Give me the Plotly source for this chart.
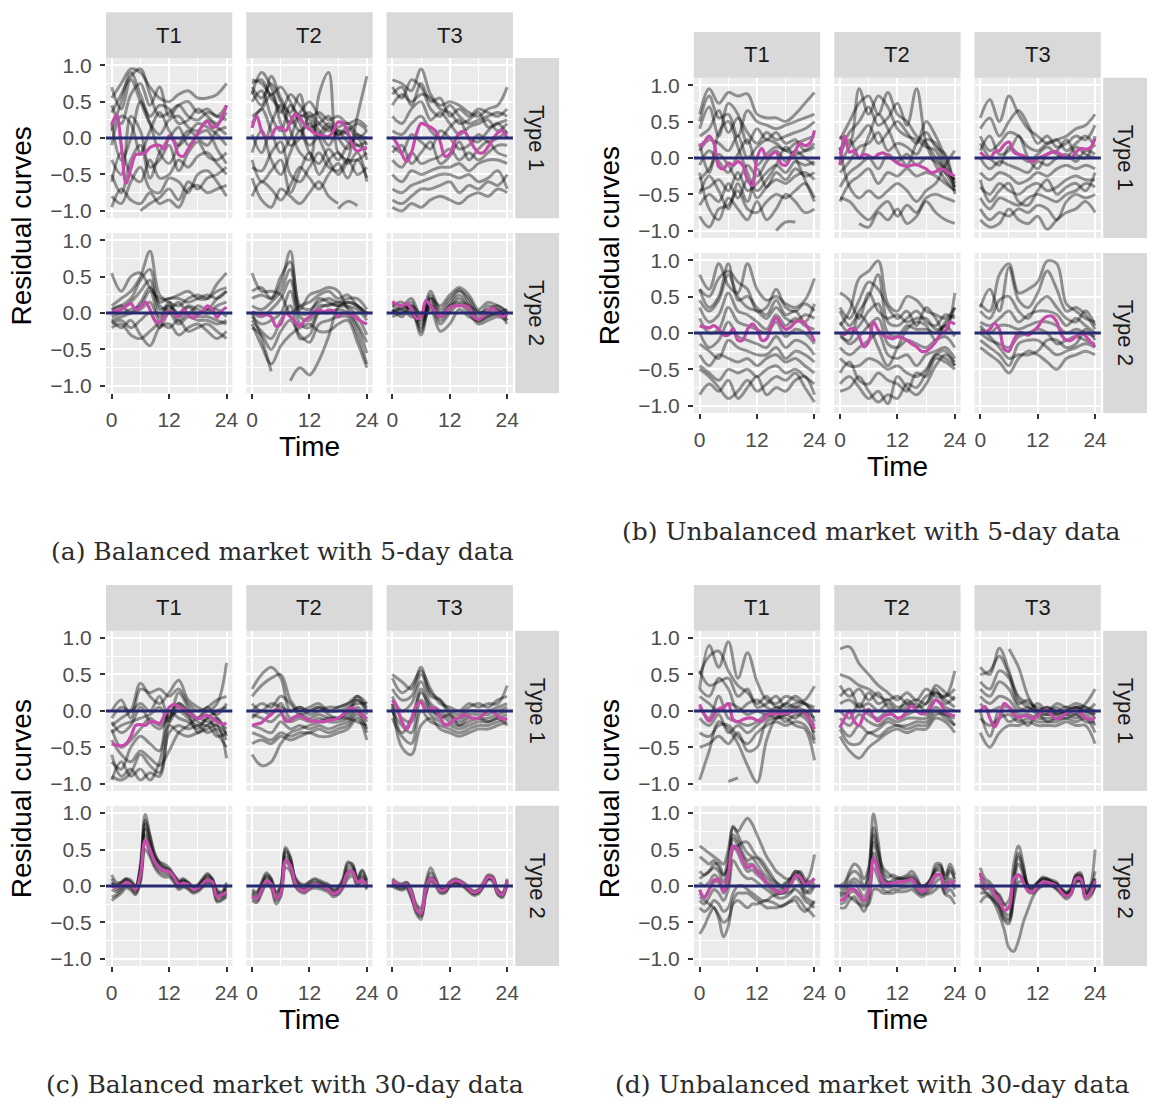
import plotly.graph_objects as go

# Hour grids: curves with 13 values are sampled every 2 hours, 25 values hourly
HOURS = list(range(25))
HOURS_2H = list(range(0, 25, 2))

Y_TICKS = [-1.0, -0.5, 0.0, 0.5, 1.0]
Y_TICK_LABELS = ["\u22121.0", "\u22120.5", "0.0", "0.5", "1.0"]
X_TICKS = [0, 12, 24]
X_TICK_LABELS = ["0", "12", "24"]
TERMS = ["T1", "T2", "T3"]
TYPES = ["Type 1", "Type 2"]

# ---------------- (a) balanced market, 5-day data ----------------
BAL5_TYPE1_T1 = [
    [0.55, 0.75, 0.95, 0.9, 0.7, 0.55, 0.5, 0.6, 0.65, 0.55, 0.55, 0.6, 0.75],
    [0.35, 0.6, 0.85, 0.95, 0.6, 0.3, 0.35, 0.45, 0.3, 0.25, 0.35, 0.3, 0.25],
    [0.1, 0.5, 0.9, 0.6, 0.3, 0.45, 0.4, 0.2, 0.25, 0.4, 0.3, 0.2, 0.35],
    [0.7, 0.4, 0.8, 0.5, 0.2, 0.05, 0.25, 0.3, 0.15, 0.1, 0.25, 0.15, 0.05],
    [-0.1, 0.3, 0.2, -0.2, 0.1, 0.35, 0.1, -0.1, 0.05, 0.2, 0.15, 0.05, -0.1],
    [0.2, -0.3, 0.0, 0.5, 0.2, -0.2, -0.35, -0.1, 0.1, 0.0, -0.1, 0.1, 0.15],
    [-0.3, -0.5, 0.3, 0.1, -0.4, -0.3, -0.1, -0.45, -0.2, -0.05, -0.25, -0.3, -0.2],
    [-0.6, -0.2, -0.5, -0.6, -0.3, -0.55, -0.5, -0.3, -0.4, -0.25, -0.2, -0.35, -0.5],
    [-0.8, -0.9, -0.6, -0.4, -0.7, -0.75, -0.55, -0.6, -0.75, -0.5, -0.45, -0.6, -0.8],
    [-0.95, -0.7, -0.85, -0.9, -0.75, -0.9, -0.85, -0.95, -0.7, -0.65, -0.75, -0.7, -0.65],
    [None, None, None, -1.0, -0.9, -0.82, -0.7, -0.85, -0.6, -0.7, -0.55, -0.5, -0.4],
    [0.45, 0.2, 0.6, 0.75, 0.45, 0.7, 0.3, 0.45, 0.5, 0.35, 0.4, 0.3, 0.45],
    [-0.5, -0.75, -0.3, -0.1, -0.55, -0.2, 0.0, 0.15, -0.1, 0.05, 0.1, -0.15, -0.35],
]
BAL5_TYPE1_T1_MEAN = [0.18, 0.32, -0.1, -0.62, -0.42, -0.23, -0.22, -0.2, -0.13, -0.1, -0.1, -0.15, 0.03,
                      -0.05, -0.23, -0.25, -0.15, -0.05, 0.07, 0.17, 0.23, 0.15, 0.17, 0.28, 0.45]

BAL5_TYPE1_T2 = [
    [0.8, 0.75, 0.6, 0.7, 0.5, 0.3, 0.35, 0.2, 0.1, 0.15, 0.2, 0.05, 0.0],
    [0.75, 0.8, 0.55, 0.4, 0.2, 0.35, 0.5, 0.3, 0.15, 0.05, 0.1, 0.2, 0.1],
    [0.7, 0.55, 0.75, 0.5, 0.3, 0.1, 0.2, 0.0, 0.15, 0.1, -0.05, -0.1, -0.05],
    [0.5, 0.65, 0.3, 0.1, 0.45, 0.2, -0.1, 0.05, 0.2, 0.0, -0.15, 0.05, -0.1],
    [0.3, 0.4, 0.6, 0.2, -0.1, 0.0, 0.3, 0.1, -0.1, 0.1, 0.05, -0.1, -0.15],
    [0.05, -0.2, 0.2, 0.45, 0.1, -0.2, -0.3, 0.6, 0.9, -0.2, -0.3, -0.3, -0.2],
    [-0.2, 0.1, -0.3, -0.5, -0.2, 0.1, -0.2, -0.35, -0.15, -0.3, -0.1, 0.0, -0.3],
    [-0.4, -0.45, -0.2, -0.05, -0.5, -0.6, -0.4, -0.2, -0.4, -0.45, -0.3, -0.5, -0.4],
    [-0.8, -0.6, -0.7, -0.85, -0.65, -0.4, -0.55, -0.7, -0.5, -0.35, -0.55, -0.3, -0.55],
    [-0.55, -0.85, -0.95, -0.7, -0.8, -0.9, -0.75, -0.6, -0.8, -0.9, None, None, None],
    [None, None, None, None, None, None, None, None, None, -0.97, -0.87, -0.93, None],
    [0.2, 0.4, 0.1, -0.2, 0.0, 0.3, 0.25, 0.0, -0.3, -0.5, -0.3, 0.3, 0.85],
    [0.6, 0.9, 0.7, 0.35, 0.6, 0.45, 0.3, 0.35, 0.25, 0.3, 0.2, 0.25, 0.15],
    [0.65, 0.45, 0.85, 0.55, 0.35, 0.6, 0.15, 0.2, 0.3, 0.05, 0.15, 0.0, 0.1],
    [-0.3, -0.6, -0.45, -0.3, -0.75, -0.45, -0.2, -0.5, -0.3, -0.2, -0.35, -0.2, -0.6],
]
BAL5_TYPE1_T2_MEAN = [0.14, 0.3, 0.1, 0.0, 0.02, 0.14, 0.14, 0.1, 0.22, 0.33, 0.28, 0.18, 0.12,
                      0.07, 0.05, 0.03, 0.02, 0.1, 0.22, 0.2, 0.08, -0.1, -0.18, -0.15, -0.13]

BAL5_TYPE1_T3 = [
    [0.8, 0.75, 0.65, 0.95, 0.6, 0.45, 0.5, 0.45, 0.35, 0.3, 0.4, 0.45, 0.7],
    [0.7, 0.55, 0.8, 0.7, 0.4, 0.3, 0.45, 0.3, 0.2, 0.25, 0.3, 0.35, 0.3],
    [0.45, 0.6, 0.5, 0.6, 0.55, 0.4, 0.35, 0.2, 0.25, 0.35, 0.15, 0.2, 0.25],
    [0.3, 0.2, 0.4, 0.5, 0.25, 0.35, 0.2, 0.05, 0.15, 0.2, 0.25, 0.1, 0.2],
    [0.1, 0.05, 0.2, 0.3, 0.1, 0.0, 0.15, 0.25, 0.0, -0.05, 0.1, 0.2, 0.05],
    [-0.1, -0.2, 0.05, -0.05, -0.15, 0.1, 0.0, -0.15, -0.1, 0.05, -0.05, 0.0, 0.1],
    [-0.3, -0.4, -0.2, -0.35, -0.3, -0.25, -0.15, -0.3, -0.2, -0.3, -0.2, -0.1, -0.1],
    [-0.5, -0.6, -0.45, -0.5, -0.45, -0.4, -0.4, -0.35, -0.45, -0.35, -0.3, -0.3, -0.35],
    [-0.7, -0.75, -0.65, -0.6, -0.55, -0.5, -0.5, -0.55, -0.5, -0.6, -0.55, -0.45, -0.7],
    [-0.85, -0.9, -0.8, -0.7, -0.7, -0.65, -0.6, -0.75, -0.65, -0.7, -0.6, -0.65, -0.5],
    [-0.95, -1.0, -0.9, -0.95, -0.85, -0.8, -0.85, -0.9, -0.8, -0.75, -0.8, -0.7, -0.75],
    [0.6, 0.7, 0.45, 0.75, 0.5, 0.55, 0.3, 0.4, 0.3, 0.4, 0.35, 0.3, 0.4],
    [-0.2, -0.1, -0.35, -0.2, -0.05, -0.35, -0.25, -0.05, -0.3, -0.15, -0.05, -0.2, -0.25],
]
BAL5_TYPE1_T3_MEAN = [0.02, -0.08, -0.22, -0.32, -0.2, 0.05, 0.2, 0.18, 0.15, 0.1, -0.05, -0.25, -0.22,
                      -0.05, 0.07, 0.09, 0.0, -0.12, -0.2, -0.2, -0.12, -0.02, 0.07, 0.1, -0.01]

BAL5_TYPE2_T1 = [
    [0.55, 0.3, 0.5, 0.55, 0.35, 0.2, 0.2, 0.25, 0.3, 0.2, 0.2, 0.4, 0.55],
    [0.1, 0.2, 0.3, 0.5, 0.85, 0.25, 0.15, 0.1, 0.2, 0.25, 0.2, 0.3, 0.35],
    [0.05, 0.1, 0.2, 0.45, 0.6, 0.1, 0.05, 0.15, 0.0, 0.1, 0.05, 0.2, 0.3],
    [0.0, 0.05, 0.15, 0.3, 0.45, 0.05, 0.1, 0.0, 0.1, 0.05, 0.0, 0.1, 0.15],
    [-0.05, 0.0, 0.05, 0.1, 0.3, -0.05, 0.15, -0.05, 0.08, 0.0, 0.05, 0.05, -0.05],
    [-0.1, -0.05, 0.0, 0.05, 0.15, -0.1, 0.1, -0.1, 0.0, -0.05, -0.05, -0.1, -0.15],
    [-0.15, -0.1, -0.2, -0.1, 0.0, -0.2, 0.0, -0.15, -0.05, -0.1, -0.1, -0.15, -0.1],
    [-0.1, -0.2, -0.1, -0.3, -0.45, -0.2, -0.15, -0.3, -0.2, -0.15, -0.25, -0.35, -0.25],
    [-0.2, -0.15, -0.3, -0.35, -0.25, -0.15, -0.2, -0.1, -0.25, -0.2, -0.15, -0.25, -0.35],
    [0.05, 0.1, 0.0, 0.15, 0.35, 0.15, 0.2, 0.2, 0.15, 0.2, 0.25, 0.2, 0.3],
]
BAL5_TYPE2_T1_MEAN = [0.02, 0.03, 0.05, 0.1, 0.13, 0.05, 0.08, 0.15, 0.05, -0.1, -0.13, -0.05, 0.02,
                      0.0, -0.05, 0.05, -0.03, -0.07, -0.02, 0.02, 0.1, 0.05, -0.06, 0.03, 0.08]

BAL5_TYPE2_T2 = [
    [0.55, 0.3, 0.3, 0.25, 0.0, 0.1, 0.15, 0.25, 0.3, 0.2, 0.25, 0.1, 0.0],
    [0.2, 0.25, 0.2, 0.4, 0.85, 0.1, 0.05, 0.15, 0.2, 0.15, 0.2, 0.2, 0.05],
    [0.1, 0.05, 0.15, 0.3, 0.6, 0.0, 0.0, 0.2, 0.15, 0.1, 0.15, 0.1, -0.05],
    [0.0, -0.05, 0.05, 0.2, 0.45, -0.05, -0.1, 0.1, 0.1, 0.15, 0.1, 0.05, -0.1],
    [-0.05, -0.15, -0.1, 0.0, 0.3, -0.15, -0.2, 0.05, 0.12, 0.1, 0.08, -0.05, -0.3],
    [-0.1, -0.25, -0.35, -0.1, 0.1, -0.35, -0.3, 0.0, 0.0, 0.05, 0.0, -0.2, -0.55],
    [-0.2, -0.3, -0.5, -0.25, -0.1, -0.3, -0.4, -0.15, -0.1, -0.05, -0.05, -0.3, -0.7],
    [-0.15, -0.45, -0.7, -0.45, -0.3, -0.2, -0.15, -0.25, -0.25, -0.15, -0.1, -0.4, -0.75],
    [0.0, -0.35, -0.8, None, None, None, None, None, None, None, None, None, None],
    [None, None, None, None, -0.93, -0.75, -0.85, -0.65, -0.32, 0.08, 0.15, 0.1, 0.0],
    [0.3, 0.35, 0.2, 0.5, 0.7, 0.05, 0.25, 0.3, 0.35, 0.3, 0.05, -0.15, -0.4],
]
BAL5_TYPE2_T2_MEAN = [0.02, -0.01, -0.03, -0.02, -0.05, -0.18, -0.15, 0.0, -0.05, -0.12, -0.18, -0.1, -0.05,
                      0.02, 0.04, 0.02, 0.04, 0.03, -0.05, 0.0, -0.01, -0.03, -0.08, -0.12, -0.15]

BAL5_TYPE2_T3 = [
    [0.15, 0.1, 0.2, -0.05, 0.3, 0.05, 0.2, 0.32, 0.15, -0.05, 0.1, 0.05, -0.05],
    [0.1, 0.05, 0.15, -0.15, 0.25, 0.0, 0.15, 0.3, 0.2, 0.0, 0.05, 0.1, 0.0],
    [0.05, 0.0, 0.1, -0.25, 0.2, -0.05, 0.1, 0.25, 0.1, -0.1, 0.0, 0.05, -0.1],
    [0.0, 0.08, 0.05, -0.3, 0.15, -0.1, 0.05, 0.2, 0.05, -0.12, -0.05, 0.0, -0.15],
    [-0.05, 0.0, 0.0, -0.2, 0.1, -0.15, 0.0, 0.12, 0.0, -0.15, -0.1, -0.05, -0.1],
    [0.1, 0.15, 0.0, -0.1, 0.05, -0.25, -0.15, 0.05, -0.05, -0.1, -0.05, 0.0, 0.05],
    [0.0, 0.05, -0.05, -0.05, 0.2, 0.1, 0.25, 0.35, 0.25, 0.05, 0.15, 0.1, 0.02],
    [0.05, -0.05, 0.1, 0.0, 0.1, -0.05, 0.1, 0.15, 0.1, 0.02, 0.0, -0.02, -0.05],
]
BAL5_TYPE2_T3_MEAN = [0.16, 0.12, 0.1, 0.13, 0.05, -0.07, -0.05, 0.17, 0.1, 0.02, -0.05, 0.0, 0.08,
                      0.1, 0.1, 0.1, 0.08, -0.05, -0.09, -0.05, 0.02, 0.07, 0.0, -0.05, -0.02]

# ---------------- (b) unbalanced market, 5-day data ----------------
UNB5_TYPE1_T1 = [
    [0.6, 0.95, 0.75, 0.9, 0.85, 0.88, 0.6, 0.55, 0.55, 0.5, 0.6, 0.75, 0.9],
    [0.5, 0.85, 0.55, 0.6, 0.3, 0.65, 0.5, 0.45, 0.4, 0.45, 0.5, 0.55, 0.6],
    [0.3, 0.4, 0.65, 0.35, 0.55, 0.35, 0.2, 0.35, 0.25, 0.3, 0.35, 0.4, 0.5],
    [0.1, 0.25, 0.2, 0.1, 0.3, 0.0, 0.15, 0.25, 0.2, 0.1, 0.2, 0.25, 0.3],
    [-0.1, 0.1, -0.05, -0.2, 0.05, 0.25, -0.1, 0.05, 0.15, 0.1, 0.05, 0.1, 0.2],
    [-0.3, -0.15, 0.05, -0.1, -0.3, -0.1, -0.25, -0.05, 0.1, -0.05, 0.1, 0.0, -0.1],
    [-0.45, -0.4, -0.3, -0.45, -0.2, -0.45, -0.35, -0.2, -0.1, -0.2, -0.05, -0.1, -0.05],
    [-0.65, -0.5, -0.6, -0.35, -0.55, -0.3, -0.55, -0.4, -0.3, -0.35, -0.25, -0.2, -0.3],
    [-0.8, -0.95, -0.7, -0.65, -0.45, -0.7, -0.75, -0.6, -0.5, -0.55, -0.45, -0.35, -0.55],
    [-0.2, -0.7, -0.85, -0.55, -0.7, -0.85, -0.6, -0.85, -0.7, -0.5, -0.6, -0.75, -0.7],
    [None, None, None, None, None, None, None, None, -1.0, -0.88, -0.88, None, None],
    [0.2, -0.2, 0.35, 0.5, 0.15, -0.2, -0.45, -0.3, -0.1, 0.15, 0.0, -0.3, -0.6],
    [0.4, 0.7, 0.3, 0.75, 0.6, 0.2, 0.4, 0.25, 0.35, 0.2, 0.25, 0.1, 0.15],
    [-0.5, -0.25, -0.45, -0.7, -0.35, -0.6, -0.15, -0.4, -0.2, -0.3, -0.15, -0.25, -0.2],
]
UNB5_TYPE1_T1_MEAN = [0.15, 0.22, 0.3, 0.2, -0.12, -0.15, -0.07, -0.1, -0.05, -0.1, -0.3, -0.38, 0.0,
                      0.13, 0.0, 0.05, 0.08, -0.08, -0.1, 0.0, 0.1, 0.2, 0.17, 0.2, 0.38]

UNB5_TYPE1_T2 = [
    [0.3, 0.2, 0.95, 0.6, 0.85, 0.7, 0.4, 0.3, 0.25, 0.15, 0.1, -0.2, -0.4],
    [0.25, 0.5, 0.75, 0.85, 0.6, 0.9, 0.6, 0.5, 0.3, 0.2, 0.0, -0.15, -0.3],
    [0.1, 0.35, 0.5, 0.7, 0.45, 0.55, 0.75, 0.45, 0.95, 0.2, -0.1, -0.3, -0.45],
    [-0.1, 0.15, 0.3, 0.45, 0.2, 0.35, 0.5, 0.35, 0.2, 0.5, 0.3, 0.0, -0.35],
    [-0.2, -0.05, 0.15, 0.2, 0.35, 0.1, 0.2, 0.15, 0.05, 0.25, 0.2, -0.1, -0.4],
    [-0.4, -0.2, -0.1, 0.0, -0.15, 0.05, -0.05, 0.05, -0.1, 0.0, -0.05, -0.2, -0.3],
    [-0.6, -0.35, -0.25, -0.15, -0.35, -0.2, -0.25, -0.15, -0.25, -0.2, -0.25, -0.35, -0.45],
    [0.15, -0.4, -0.55, -0.45, -0.55, -0.45, -0.35, -0.45, -0.6, -0.45, -0.35, -0.1, 0.1],
    [-0.55, -0.6, -0.75, -0.85, -0.7, -0.6, -0.8, -0.65, -0.75, -0.55, -0.5, -0.55, -0.6],
    [None, None, -0.9, -0.95, -0.75, -0.85, -0.7, -0.9, -0.8, -0.6, -0.75, -0.85, -0.9],
    [0.05, 0.25, 0.0, 0.3, 0.6, 0.4, 0.1, -0.1, 0.2, 0.35, 0.15, 0.05, -0.5],
]
UNB5_TYPE1_T2_MEAN = [-0.1, 0.3, 0.08, 0.1, 0.0, 0.05, 0.03, 0.0, 0.05, 0.07, 0.03, -0.02, -0.07,
                      -0.1, -0.12, -0.1, -0.09, -0.12, -0.15, -0.2, -0.19, -0.15, -0.17, -0.22, -0.25]

UNB5_TYPE1_T3 = [
    [0.55, 0.8, 0.5, 0.85, 0.6, 0.4, 0.3, 0.2, 0.25, 0.3, 0.4, 0.45, 0.6],
    [0.4, 0.55, 0.3, 0.5, 0.65, 0.45, 0.2, 0.3, 0.15, 0.2, 0.3, 0.25, 0.45],
    [0.3, 0.1, 0.2, 0.35, 0.3, 0.15, 0.1, 0.2, 0.25, 0.1, 0.2, 0.3, 0.15],
    [0.2, 0.0, -0.1, 0.15, 0.05, -0.05, 0.05, 0.15, 0.05, 0.0, 0.15, 0.05, 0.0],
    [0.0, -0.15, -0.05, -0.1, -0.15, -0.2, -0.05, -0.1, 0.0, 0.05, -0.05, 0.1, 0.05],
    [-0.2, -0.3, -0.2, -0.25, -0.35, -0.3, -0.2, -0.25, -0.15, -0.1, -0.15, -0.1, -0.15],
    [-0.4, -0.5, -0.35, -0.45, -0.5, -0.4, -0.35, -0.45, -0.4, -0.3, -0.25, -0.3, -0.3],
    [-0.55, -0.7, -0.55, -0.6, -0.65, -0.55, -0.5, -0.55, -0.6, -0.5, -0.45, -0.35, -0.4],
    [-0.7, -0.85, -0.75, -0.8, -0.7, -0.75, -0.65, -0.7, -0.85, -0.6, -0.5, -0.55, -0.5],
    [-0.85, -0.95, -0.9, -0.7, -0.85, -0.9, -0.8, -0.98, -0.85, -0.75, -0.7, -0.6, -0.75],
    [0.1, 0.3, 0.05, 0.1, 0.3, 0.0, -0.15, 0.05, 0.1, 0.25, 0.05, 0.0, 0.3],
    [-0.3, -0.6, -0.45, -0.35, -0.6, -0.65, -0.45, -0.3, -0.5, -0.4, -0.35, -0.45, -0.2],
]
UNB5_TYPE1_T3_MEAN = [0.08, 0.02, -0.01, 0.08, 0.1, 0.18, 0.22, 0.08, 0.05, 0.03, -0.02, -0.05, 0.0,
                      0.02, 0.05, 0.08, 0.08, 0.04, 0.01, 0.0, 0.08, 0.13, 0.12, 0.14, 0.27]

UNB5_TYPE2_T1 = [
    [0.8, 0.6, 0.95, 0.65, 0.55, 0.95, 0.6, 0.45, 0.5, 0.4, 0.35, 0.45, 0.75],
    [0.6, 0.5, 0.75, 0.85, 0.7, 0.6, 0.3, 0.35, 0.6, 0.35, 0.3, 0.4, 0.3],
    [0.45, 0.3, 0.45, 0.8, 0.5, 0.35, 0.3, 0.2, 0.35, 0.2, 0.15, 0.25, 0.2],
    [0.35, 0.15, 0.25, 0.55, 0.3, 0.25, 0.15, 0.05, 0.25, 0.1, 0.2, 0.1, 0.05],
    [0.2, 0.0, 0.05, 0.35, 0.15, 0.1, 0.05, 0.0, 0.15, -0.05, 0.05, 0.0, -0.15],
    [0.0, -0.2, -0.1, 0.15, -0.05, -0.1, -0.15, -0.2, -0.05, -0.2, -0.1, -0.15, -0.3],
    [-0.15, -0.25, -0.35, -0.1, -0.2, -0.25, -0.3, -0.3, -0.2, -0.35, -0.25, -0.3, -0.4],
    [-0.3, -0.45, -0.3, -0.35, -0.4, -0.35, -0.45, -0.35, -0.3, -0.4, -0.35, -0.45, -0.55],
    [-0.45, -0.55, -0.65, -0.5, -0.55, -0.5, -0.6, -0.5, -0.45, -0.55, -0.5, -0.6, -0.7],
    [-0.5, -0.6, -0.75, -0.9, -0.8, -0.65, -0.8, -0.7, -0.6, -0.65, -0.55, -0.75, -0.95],
    [-0.85, -0.7, -0.8, -0.65, -0.9, -0.75, -0.6, -0.85, -0.75, -0.8, -0.65, -0.6, -0.85],
    [0.6, 0.35, 0.5, 0.95, 0.45, 0.5, 0.35, 0.25, 0.45, 0.25, 0.3, 0.15, 0.4],
]
UNB5_TYPE2_T1_MEAN = [0.1, 0.08, 0.07, 0.1, 0.05, -0.03, -0.03, 0.06, -0.1, -0.1, 0.05, 0.12, 0.05,
                      -0.1, -0.08, 0.1, 0.21, 0.12, 0.05, 0.08, 0.15, 0.17, 0.13, 0.03, -0.12]

UNB5_TYPE2_T2 = [
    [0.1, 0.3, 0.75, 0.85, 0.99, 0.4, 0.3, 0.5, 0.45, 0.3, 0.25, 0.2, 0.35],
    [0.35, 0.2, 0.45, 0.7, 0.6, 0.35, 0.2, 0.3, 0.1, 0.35, 0.2, 0.0, 0.55],
    [0.3, 0.1, 0.3, 0.5, 0.8, 0.15, 0.1, 0.2, 0.3, 0.15, 0.1, 0.25, 0.2],
    [0.15, 0.0, 0.1, 0.3, 0.4, 0.0, -0.05, 0.1, 0.05, 0.05, 0.0, 0.1, -0.05],
    [0.0, -0.15, -0.05, 0.1, 0.2, -0.15, -0.2, -0.1, -0.15, -0.2, -0.1, -0.05, -0.2],
    [-0.2, -0.3, -0.2, -0.1, 0.0, -0.3, -0.35, -0.3, -0.45, -0.3, -0.25, -0.2, -0.35],
    [-0.35, -0.45, -0.45, -0.35, -0.4, -0.5, -0.45, -0.55, -0.6, -0.5, -0.3, -0.35, -0.45],
    [-0.55, -0.4, -0.65, -0.7, -0.55, -0.65, -0.7, -0.8, -0.55, -0.6, -0.35, -0.4, -0.5],
    [-0.7, -0.6, -0.75, -0.9, -0.8, -0.97, -0.6, -0.75, -0.85, -0.7, -0.45, -0.3, -0.4],
    [-0.8, -0.75, -0.6, -0.8, -0.95, -0.85, -0.9, -0.7, -0.75, -0.55, -0.3, -0.25, -0.45],
    [-0.05, -0.1, 0.25, 0.1, -0.2, -0.45, -0.2, 0.05, 0.15, 0.1, -0.1, 0.15, 0.25],
    [0.55, 0.45, 0.2, 0.55, 0.3, 0.2, 0.25, 0.15, 0.2, 0.2, 0.05, 0.1, 0.35],
]
UNB5_TYPE2_T2_MEAN = [0.0, -0.02, 0.05, 0.06, -0.05, -0.19, -0.12, 0.15, 0.04, -0.03, -0.06, -0.08, -0.05,
                      -0.07, -0.1, -0.15, -0.19, -0.25, -0.25, -0.2, -0.12, -0.02, 0.03, 0.15, 0.12]

UNB5_TYPE2_T3 = [
    [0.4, 0.3, 0.8, 0.95, 0.55, 0.6, 0.7, 0.99, 0.95, 0.4, 0.3, 0.2, 0.15],
    [0.35, 0.6, 0.3, 0.9, 0.45, 0.35, 0.55, 0.85, 0.6, 0.3, 0.35, 0.25, 0.05],
    [0.3, 0.2, 0.45, 0.5, 0.3, 0.2, 0.4, 0.5, 0.35, 0.2, 0.15, 0.3, 0.1],
    [0.15, 0.1, 0.2, 0.3, 0.15, 0.25, 0.3, 0.3, 0.25, 0.1, 0.2, 0.1, 0.0],
    [0.05, 0.0, 0.1, 0.1, 0.05, 0.1, 0.15, 0.15, 0.1, 0.0, 0.05, 0.0, -0.05],
    [0.0, -0.1, -0.15, -0.2, -0.05, 0.0, 0.05, 0.0, -0.15, -0.1, -0.05, -0.1, -0.15],
    [-0.1, -0.2, -0.3, -0.45, -0.15, -0.1, -0.1, -0.2, -0.3, -0.25, -0.2, -0.15, -0.2],
    [-0.2, -0.3, -0.4, -0.55, -0.35, -0.25, -0.3, -0.4, -0.5, -0.35, -0.3, -0.25, -0.3],
    [0.1, -0.05, -0.2, -0.35, -0.3, -0.3, -0.25, -0.1, -0.1, -0.2, -0.15, 0.05, -0.1],
]
UNB5_TYPE2_T3_MEAN = [0.01, 0.01, 0.05, 0.13, 0.05, -0.22, -0.25, -0.1, 0.0, 0.0, -0.03, 0.02, 0.08,
                      0.18, 0.23, 0.23, 0.15, -0.03, -0.1, -0.1, -0.05, 0.0, -0.04, -0.12, -0.19]

# ---------------- (c) balanced market, 30-day data ----------------
BAL30_TYPE1_T1 = [
    [-0.2, -0.1, 0.0, 0.38, 0.2, 0.1, 0.25, 0.42, 0.15, 0.05, 0.0, 0.1, 0.66],
    [0.0, 0.15, -0.1, 0.3, 0.25, 0.3, 0.2, 0.3, 0.1, 0.0, 0.05, 0.15, 0.2],
    [-0.1, 0.05, 0.0, 0.1, 0.0, 0.2, -0.1, 0.25, 0.05, -0.1, 0.0, -0.05, 0.1],
    [-0.3, -0.2, -0.15, -0.1, -0.05, 0.05, -0.15, 0.05, -0.05, -0.1, 0.05, -0.1, -0.25],
    [-0.25, -0.5, -0.4, -0.25, -0.1, -0.2, -0.05, 0.1, 0.0, -0.15, -0.2, -0.1, -0.35],
    [-0.7, -0.8, -0.5, -0.35, -0.45, -0.55, 0.0, -0.1, -0.15, -0.25, -0.1, -0.3, -0.5],
    [-0.9, -0.95, -0.85, -0.6, -0.75, -0.85, -0.3, -0.2, -0.25, -0.2, -0.3, -0.25, -0.4],
    [-0.6, -0.9, -0.8, -0.95, -0.85, -0.9, -0.15, 0.1, -0.05, -0.3, -0.2, -0.35, -0.3],
    [-0.95, -0.7, -0.9, -0.8, -0.95, -0.7, -0.2, -0.3, -0.35, -0.3, -0.25, -0.2, -0.65],
    [-0.4, -0.6, -0.7, -0.55, -0.65, -0.75, -0.55, -0.3, -0.2, -0.1, -0.15, -0.2, -0.3],
    [-0.15, -0.3, -0.2, 0.05, -0.15, -0.25, -0.1, 0.0, -0.1, -0.2, -0.1, 0.0, 0.05],
]
BAL30_TYPE1_T1_MEAN = [-0.45, -0.47, -0.48, -0.45, -0.35, -0.2, -0.19, -0.2, -0.15, -0.15, -0.17, -0.06, 0.05,
                       0.09, 0.06, 0.02, -0.02, -0.07, -0.11, -0.08, -0.06, -0.1, -0.15, -0.18, -0.17]

BAL30_TYPE1_T2 = [
    [0.3, 0.5, 0.6, 0.45, 0.0, 0.05, -0.05, 0.0, 0.05, 0.05, 0.1, 0.15, 0.05],
    [0.2, 0.35, 0.45, 0.5, 0.15, 0.0, 0.05, 0.1, 0.0, 0.0, 0.05, 0.1, 0.1],
    [0.0, 0.1, 0.05, 0.2, 0.1, -0.05, 0.0, 0.05, -0.05, -0.1, 0.0, 0.2, 0.0],
    [-0.1, 0.0, -0.05, 0.1, -0.1, -0.05, -0.1, -0.05, -0.1, -0.1, -0.05, 0.15, -0.05],
    [-0.05, -0.1, -0.15, -0.05, -0.15, -0.1, -0.15, -0.1, -0.15, -0.15, -0.1, 0.05, -0.15],
    [-0.2, -0.25, -0.3, -0.15, -0.25, -0.2, -0.25, -0.2, -0.25, -0.2, -0.15, 0.0, -0.25],
    [-0.3, -0.35, -0.4, -0.3, -0.35, -0.3, -0.3, -0.25, -0.3, -0.25, -0.2, -0.05, -0.3],
    [-0.45, -0.4, -0.45, -0.35, -0.4, -0.35, -0.3, -0.35, -0.35, -0.3, -0.25, -0.1, -0.4],
    [-0.6, -0.75, -0.7, -0.45, -0.3, -0.25, -0.2, -0.15, -0.1, -0.1, -0.1, -0.15, -0.2],
    [0.1, 0.0, 0.1, 0.05, 0.0, 0.05, 0.0, 0.05, 0.0, 0.05, 0.1, 0.2, 0.1],
]
BAL30_TYPE1_T2_MEAN = [-0.2, -0.18, -0.16, -0.1, -0.05, 0.02, 0.0, -0.14, -0.13, -0.08, -0.07, -0.1, -0.13,
                       -0.14, -0.15, -0.15, -0.13, -0.12, -0.1, -0.05, 0.02, 0.04, 0.0, -0.05, -0.11]

BAL30_TYPE1_T3 = [
    [0.5, 0.4, 0.3, 0.6, 0.2, 0.15, 0.0, -0.05, 0.05, 0.1, 0.05, 0.15, 0.2],
    [0.45, 0.25, 0.35, 0.55, 0.3, 0.1, 0.05, 0.0, 0.1, 0.05, 0.1, 0.1, 0.35],
    [0.3, 0.15, 0.2, 0.5, 0.25, 0.15, -0.05, -0.1, 0.0, 0.0, 0.0, 0.05, 0.1],
    [0.2, 0.0, 0.1, 0.4, 0.1, 0.0, -0.1, -0.15, -0.05, -0.05, -0.05, 0.0, 0.05],
    [0.1, -0.1, -0.15, 0.3, 0.0, -0.05, -0.15, -0.2, -0.1, -0.1, -0.1, -0.05, 0.0],
    [0.0, -0.2, -0.3, 0.15, -0.05, -0.15, -0.2, -0.25, -0.2, -0.15, -0.15, -0.1, -0.05],
    [-0.1, -0.35, -0.45, 0.0, -0.15, -0.2, -0.25, -0.3, -0.25, -0.2, -0.2, -0.15, -0.1],
    [0.1, -0.5, -0.6, -0.2, -0.1, -0.25, -0.3, -0.35, -0.3, -0.25, -0.25, -0.2, -0.15],
    [0.05, -0.3, -0.1, 0.25, 0.05, -0.1, -0.05, -0.2, -0.15, -0.1, -0.15, -0.1, -0.2],
]
BAL30_TYPE1_T3_MEAN = [0.15, 0.05, -0.15, -0.25, -0.12, 0.07, 0.12, 0.0, 0.03, 0.04, -0.08, -0.2, -0.17,
                       -0.12, -0.09, -0.05, -0.08, -0.11, -0.1, -0.05, 0.0, -0.01, -0.07, -0.11, -0.11]

BAL30_TYPE2_T1 = [
    [0.15, 0.05, 0.05, 0.1, 0.05, 0.0, 0.3, 0.98, 0.7, 0.45, 0.32, 0.27, 0.22, 0.15, 0.08, 0.1, 0.05, 0.0, 0.02, 0.1, 0.17, 0.1, -0.05, -0.1, 0.05],
    [0.1, 0.0, 0.03, 0.08, 0.05, -0.02, 0.25, 0.85, 0.62, 0.4, 0.3, 0.25, 0.22, 0.12, 0.05, 0.08, 0.03, -0.02, 0.0, 0.07, 0.13, 0.08, -0.1, -0.12, 0.0],
    [0.05, -0.05, 0.0, 0.06, 0.02, -0.05, 0.2, 0.78, 0.58, 0.37, 0.28, 0.24, 0.2, 0.12, 0.03, 0.06, 0.02, -0.04, -0.02, 0.05, 0.1, 0.07, -0.12, -0.13, -0.05],
    [-0.05, -0.08, -0.03, 0.03, 0.0, -0.07, 0.12, 0.7, 0.52, 0.33, 0.24, 0.2, 0.18, 0.1, 0.0, 0.03, 0.0, -0.06, -0.04, 0.02, 0.08, 0.05, -0.16, -0.15, -0.1],
    [-0.15, -0.12, -0.06, 0.0, -0.03, -0.1, 0.08, 0.6, 0.45, 0.28, 0.2, 0.16, 0.15, 0.08, -0.02, 0.0, -0.03, -0.08, -0.06, 0.0, 0.05, 0.03, -0.2, -0.18, -0.12],
    [-0.2, -0.15, -0.1, -0.03, -0.06, -0.12, 0.05, 0.5, 0.4, 0.25, 0.16, 0.12, 0.12, 0.05, -0.05, -0.02, -0.05, -0.1, -0.08, -0.02, 0.03, 0.0, -0.22, -0.2, -0.15],
    [0.02, 0.02, 0.05, 0.1, 0.08, 0.0, 0.22, 0.9, 0.68, 0.42, 0.33, 0.3, 0.25, 0.15, 0.06, 0.07, 0.04, -0.03, 0.0, 0.08, 0.15, 0.1, -0.08, -0.08, 0.02],
]
BAL30_TYPE2_T1_MEAN = [0.0, -0.02, 0.0, 0.05, 0.02, -0.05, 0.15, 0.63, 0.5, 0.33, 0.25, 0.21, 0.2,
                       0.12, 0.02, 0.04, 0.02, -0.05, -0.03, 0.03, 0.08, 0.06, -0.15, -0.12, -0.09]

BAL30_TYPE2_T2 = [
    [-0.08, -0.1, 0.05, 0.18, 0.1, -0.1, 0.0, 0.53, 0.4, 0.1, 0.02, 0.0, 0.05, 0.08, 0.06, 0.03, 0.0, -0.06, -0.03, 0.08, 0.3, 0.3, 0.1, 0.2, 0.05],
    [-0.1, -0.13, 0.0, 0.13, 0.07, -0.13, -0.05, 0.46, 0.35, 0.08, 0.0, -0.03, 0.02, 0.05, 0.04, 0.01, -0.02, -0.08, -0.05, 0.05, 0.25, 0.26, 0.08, 0.15, 0.02],
    [-0.12, -0.16, -0.03, 0.1, 0.05, -0.16, -0.08, 0.4, 0.3, 0.05, -0.03, -0.05, 0.0, 0.03, 0.02, 0.0, -0.04, -0.1, -0.07, 0.03, 0.2, 0.22, 0.05, 0.12, 0.0],
    [-0.16, -0.2, -0.07, 0.05, 0.0, -0.2, -0.12, 0.32, 0.25, 0.02, -0.06, -0.08, -0.03, 0.0, -0.01, -0.03, -0.06, -0.12, -0.1, 0.0, 0.15, 0.18, 0.02, 0.08, -0.03],
    [-0.2, -0.23, -0.1, 0.02, -0.03, -0.25, -0.15, 0.25, 0.2, 0.0, -0.08, -0.1, -0.05, -0.03, -0.04, -0.06, -0.09, -0.15, -0.12, -0.03, 0.1, 0.14, 0.0, 0.05, -0.05],
    [-0.05, -0.08, 0.03, 0.15, 0.1, -0.08, 0.02, 0.5, 0.38, 0.12, 0.04, 0.02, 0.06, 0.1, 0.08, 0.05, 0.02, -0.04, -0.01, 0.1, 0.33, 0.28, 0.12, 0.22, 0.08],
]
BAL30_TYPE2_T2_MEAN = [-0.14, -0.17, -0.05, 0.07, 0.03, -0.17, -0.1, 0.35, 0.28, 0.05, -0.05, -0.07, -0.02,
                       0.02, 0.01, -0.01, -0.05, -0.11, -0.08, 0.02, 0.18, 0.2, 0.05, 0.08, 0.0]

BAL30_TYPE2_T3 = [
    [0.1, 0.05, 0.03, 0.05, -0.05, -0.25, -0.3, 0.05, 0.25, 0.12, -0.02, -0.02, 0.06, 0.1, 0.08, 0.04, -0.02, -0.07, -0.05, 0.05, 0.15, 0.13, -0.05, -0.1, 0.1],
    [0.05, 0.0, -0.02, 0.0, -0.12, -0.35, -0.42, -0.1, 0.08, 0.03, -0.08, -0.08, 0.01, 0.05, 0.04, 0.0, -0.06, -0.11, -0.09, 0.0, 0.1, 0.08, -0.1, -0.14, 0.05],
    [0.03, -0.02, -0.04, -0.02, -0.15, -0.38, -0.46, -0.12, 0.05, 0.0, -0.1, -0.1, -0.01, 0.03, 0.02, -0.02, -0.08, -0.13, -0.11, -0.02, 0.08, 0.06, -0.12, -0.16, 0.02],
    [0.08, 0.03, 0.01, 0.04, -0.07, -0.28, -0.34, 0.0, 0.18, 0.08, -0.04, -0.04, 0.04, 0.08, 0.07, 0.03, -0.03, -0.08, -0.06, 0.03, 0.13, 0.12, -0.06, -0.1, 0.08],
    [0.0, -0.04, -0.06, -0.04, -0.18, -0.32, -0.4, -0.08, 0.12, 0.06, -0.05, -0.07, 0.0, 0.04, 0.03, 0.0, -0.05, -0.1, -0.08, 0.0, 0.1, 0.1, -0.08, -0.12, 0.04],
]
BAL30_TYPE2_T3_MEAN = [0.07, 0.02, 0.0, 0.02, -0.1, -0.32, -0.38, -0.05, 0.1, 0.05, -0.06, -0.06, 0.03,
                       0.07, 0.06, 0.02, -0.04, -0.09, -0.07, 0.02, 0.12, 0.1, -0.08, -0.12, 0.07]

# ---------------- (d) unbalanced market, 30-day data ----------------
UNB30_TYPE1_T1 = [
    [0.3, 0.9, 0.6, 0.95, 0.45, 0.8, 0.4, 0.15, 0.1, 0.2, 0.15, 0.1, 0.05],
    [0.5, 0.75, 0.82, 0.55, 0.35, 0.25, 0.1, 0.2, 0.05, 0.1, 0.2, 0.1, 0.0],
    [0.55, 0.35, 0.4, 0.45, 0.2, 0.3, 0.05, 0.1, 0.2, 0.05, 0.1, 0.15, 0.34],
    [0.3, 0.2, 0.45, 0.3, 0.0, 0.1, 0.15, 0.05, 0.0, 0.1, 0.05, 0.1, -0.15],
    [0.2, 0.1, 0.0, 0.1, 0.05, -0.05, 0.0, -0.05, 0.05, 0.0, 0.05, 0.0, -0.1],
    [0.05, -0.1, 0.2, -0.1, -0.15, -0.2, -0.15, -0.05, -0.1, -0.05, 0.0, -0.05, -0.2],
    [-0.1, -0.2, -0.05, -0.3, -0.2, -0.3, -0.2, -0.1, -0.05, -0.15, -0.05, -0.1, -0.3],
    [-0.3, -0.35, -0.2, -0.2, -0.35, -0.45, -0.3, -0.2, -0.15, -0.2, -0.15, -0.2, -0.45],
    [-0.5, -0.45, -0.35, -0.45, -0.3, -0.55, -0.5, -0.15, -0.1, -0.1, -0.2, -0.25, -0.68],
    [-0.95, -0.55, -0.15, -0.25, -0.45, -0.75, -0.98, -0.4, -0.1, -0.05, -0.1, 0.0, -0.4],
    [None, None, None, -0.97, -0.92, None, None, None, None, None, None, None, None],
]
UNB30_TYPE1_T1_MEAN = [0.09, -0.05, -0.14, -0.05, 0.03, 0.05, 0.1, -0.12, -0.15, -0.12, -0.1, -0.1, -0.13,
                       -0.14, -0.06, -0.04, -0.04, -0.03, -0.03, -0.02, 0.0, 0.0, -0.03, -0.12, -0.25]

UNB30_TYPE1_T2 = [
    [0.85, 0.88, 0.65, 0.5, 0.35, 0.25, 0.15, 0.25, 0.15, 0.3, 0.2, 0.2, 0.55],
    [0.5, 0.45, 0.35, 0.3, 0.2, 0.15, 0.2, 0.1, 0.05, 0.2, 0.25, 0.2, 0.3],
    [0.35, 0.2, 0.3, 0.15, 0.25, 0.05, 0.0, 0.15, 0.05, 0.1, 0.3, 0.1, 0.2],
    [0.1, 0.15, 0.05, 0.1, 0.0, 0.1, 0.0, 0.05, 0.1, 0.0, 0.25, 0.15, 0.05],
    [0.0, -0.1, 0.1, -0.05, -0.1, 0.0, -0.1, -0.05, 0.0, -0.05, 0.15, 0.05, 0.0],
    [-0.1, -0.2, -0.05, -0.15, -0.2, -0.1, -0.15, -0.1, -0.1, -0.1, 0.05, -0.05, -0.1],
    [-0.2, -0.35, -0.2, -0.3, -0.25, -0.15, -0.2, -0.2, -0.15, -0.15, 0.0, -0.1, -0.2],
    [-0.35, -0.55, -0.65, -0.5, -0.4, -0.3, -0.25, -0.3, -0.25, -0.25, -0.1, -0.15, -0.3],
    [-0.25, -0.45, -0.45, -0.3, -0.35, -0.25, -0.2, -0.25, -0.2, -0.2, -0.05, -0.05, -0.2],
    [0.2, 0.3, 0.05, 0.25, 0.1, 0.15, 0.05, 0.1, 0.15, 0.1, 0.35, 0.25, 0.15],
]
UNB30_TYPE1_T2_MEAN = [-0.23, -0.1, 0.0, -0.15, -0.2, -0.05, 0.02, -0.08, -0.14, -0.08, -0.05, -0.05, -0.1,
                       -0.08, 0.0, 0.07, 0.0, -0.04, -0.02, 0.05, 0.15, 0.1, -0.01, -0.05, -0.07]

UNB30_TYPE1_T3 = [
    [0.6, 0.5, 0.86, 0.55, 0.15, 0.05, 0.0, 0.05, -0.05, 0.0, 0.05, 0.0, 0.1],
    [0.5, 0.55, 0.75, 0.5, 0.2, 0.1, 0.05, 0.0, 0.1, 0.05, 0.1, 0.05, -0.05],
    [0.4, 0.3, 0.55, 0.45, 0.1, 0.15, 0.0, 0.05, 0.0, 0.05, 0.0, 0.1, 0.3],
    [0.3, 0.2, 0.4, 0.3, 0.05, 0.0, 0.1, 0.0, 0.05, -0.05, 0.05, 0.05, 0.0],
    [0.2, 0.1, 0.2, 0.15, 0.0, 0.05, -0.05, -0.05, -0.05, 0.0, -0.05, 0.0, -0.1],
    [0.1, 0.0, 0.05, 0.05, -0.05, -0.05, -0.1, -0.1, -0.1, -0.05, -0.1, -0.05, -0.2],
    [-0.1, -0.2, -0.1, -0.05, -0.15, -0.1, -0.15, -0.15, -0.15, -0.1, -0.15, -0.1, -0.3],
    [-0.3, -0.5, -0.3, -0.2, -0.2, -0.15, -0.2, -0.2, -0.2, -0.15, -0.2, -0.2, -0.45],
    [None, None, None, 0.85, 0.6, 0.2, 0.0, -0.05, -0.02, 0.0, 0.05, 0.0, -0.05],
    [0.0, -0.35, 0.0, -0.15, -0.1, -0.2, -0.05, -0.15, -0.1, -0.1, -0.05, -0.15, -0.15],
]
UNB30_TYPE1_T3_MEAN = [0.0, 0.06, -0.1, -0.22, -0.1, 0.1, 0.05, -0.05, -0.09, -0.07, -0.07, -0.11, -0.07,
                       0.0, 0.01, -0.06, -0.11, -0.08, -0.03, 0.0, 0.0, -0.03, -0.1, -0.12, -0.09]

UNB30_TYPE2_T1 = [
    [0.55, 0.5, 0.45, 0.4, 0.35, 0.3, 0.5, 0.8, 0.75, 0.85, 0.93, 0.85, 0.7, 0.55, 0.4, 0.3, 0.2, 0.15, 0.1, 0.1, 0.15, 0.2, 0.1, 0.05, 0.1],
    [0.4, 0.35, 0.3, 0.35, 0.25, 0.15, 0.4, 0.82, 0.7, 0.55, 0.45, 0.4, 0.38, 0.3, 0.2, 0.1, 0.05, 0.0, 0.05, 0.1, 0.2, 0.15, 0.05, 0.0, 0.05],
    [0.2, 0.15, 0.2, 0.25, 0.2, 0.05, 0.3, 0.7, 0.62, 0.45, 0.35, 0.38, 0.3, 0.2, 0.12, 0.05, 0.0, -0.02, 0.02, 0.1, 0.2, 0.18, 0.05, 0.15, 0.43],
    [0.05, 0.0, 0.05, 0.15, 0.1, -0.05, 0.2, 0.65, 0.55, 0.4, 0.3, 0.3, 0.22, 0.15, 0.05, 0.0, -0.05, -0.06, -0.03, 0.05, 0.15, 0.1, 0.0, 0.05, 0.1],
    [-0.1, -0.15, -0.05, 0.05, 0.05, -0.1, 0.05, 0.55, 0.45, 0.3, 0.2, 0.22, 0.15, 0.1, 0.02, -0.05, -0.1, -0.1, -0.08, 0.0, 0.1, 0.05, -0.1, -0.05, 0.0],
    [-0.2, -0.25, -0.15, -0.05, -0.1, -0.2, -0.05, 0.35, 0.25, 0.15, 0.1, 0.1, 0.05, 0.0, -0.05, -0.1, -0.15, -0.17, -0.15, -0.1, 0.0, 0.0, -0.15, -0.2, -0.25],
    [-0.3, -0.35, -0.3, -0.2, -0.25, -0.35, -0.3, -0.1, 0.0, 0.0, -0.05, -0.1, -0.15, -0.2, -0.2, -0.22, -0.25, -0.28, -0.25, -0.2, -0.15, -0.2, -0.3, -0.35, -0.43],
    [-0.66, -0.55, -0.4, -0.3, -0.45, -0.7, -0.55, -0.2, -0.1, -0.1, -0.1, -0.15, -0.2, -0.25, -0.3, -0.3, -0.3, -0.28, -0.25, -0.22, -0.2, -0.3, -0.35, -0.3, -0.2],
    [0.1, 0.15, 0.2, 0.3, 0.3, 0.15, 0.25, 0.5, 0.55, 0.6, 0.6, 0.5, 0.4, 0.35, 0.25, 0.15, 0.05, 0.0, -0.05, 0.05, 0.15, 0.1, -0.05, -0.1, 0.0],
    [-0.15, -0.2, -0.25, -0.3, -0.4, -0.5, -0.45, -0.25, -0.2, -0.25, -0.3, -0.25, -0.25, -0.22, -0.2, -0.15, -0.12, -0.1, -0.1, -0.08, -0.05, -0.1, -0.2, -0.25, -0.3],
]
UNB30_TYPE2_T1_MEAN = [-0.05, -0.16, -0.05, 0.08, 0.08, -0.08, 0.15, 0.55, 0.5, 0.35, 0.25, 0.28, 0.2,
                       0.12, 0.05, -0.02, -0.07, -0.09, -0.05, 0.02, 0.14, 0.12, 0.02, 0.05, 0.1]

UNB30_TYPE2_T2 = [
    [-0.1, -0.05, 0.05, 0.1, 0.05, -0.05, 0.2, 0.99, 0.6, 0.15, 0.05, 0.08, 0.1, 0.12, 0.15, 0.2, 0.12, 0.0, 0.02, 0.1, 0.3, 0.3, 0.1, 0.25, 0.05],
    [-0.05, 0.0, 0.15, 0.2, 0.15, 0.0, 0.15, 0.8, 0.5, 0.2, 0.12, 0.15, 0.12, 0.1, 0.1, 0.12, 0.05, -0.02, 0.0, 0.08, 0.25, 0.28, 0.05, 0.2, 0.1],
    [-0.15, -0.12, 0.0, 0.05, -0.05, -0.15, 0.0, 0.6, 0.35, 0.1, 0.05, 0.05, 0.07, 0.08, 0.09, 0.1, 0.02, -0.06, -0.03, 0.06, 0.2, 0.2, 0.0, 0.1, 0.0],
    [-0.25, -0.22, -0.1, -0.08, -0.15, -0.25, -0.12, 0.45, 0.25, 0.0, -0.02, 0.0, 0.02, 0.03, 0.04, 0.05, -0.03, -0.1, -0.07, 0.02, 0.12, 0.15, -0.05, 0.05, -0.05],
    [-0.3, -0.3, -0.2, -0.15, -0.25, -0.35, -0.2, 0.25, 0.1, -0.05, -0.08, -0.05, -0.05, -0.03, -0.02, 0.0, -0.06, -0.12, -0.1, -0.05, 0.05, 0.1, -0.1, -0.05, -0.15],
    [-0.12, -0.1, -0.15, -0.2, -0.25, -0.28, -0.25, -0.05, -0.05, -0.1, -0.1, -0.1, -0.08, -0.08, -0.07, -0.05, -0.1, -0.15, -0.12, -0.1, -0.05, 0.0, -0.12, -0.15, -0.25],
    [0.0, 0.05, 0.2, 0.3, 0.25, 0.1, 0.25, 0.7, 0.45, 0.25, 0.18, 0.12, 0.1, 0.1, 0.12, 0.15, 0.08, 0.0, 0.02, 0.1, 0.22, 0.25, 0.15, 0.3, 0.15],
]
UNB30_TYPE2_T2_MEAN = [-0.2, -0.17, -0.05, -0.05, -0.12, -0.2, -0.1, 0.38, 0.2, 0.05, 0.02, 0.04, 0.05,
                       0.06, 0.07, 0.09, 0.0, -0.08, -0.05, 0.05, 0.15, 0.15, -0.03, 0.05, 0.05]

UNB30_TYPE2_T3 = [
    [0.25, 0.1, 0.05, -0.05, -0.15, -0.25, -0.2, 0.3, 0.55, 0.3, 0.0, -0.02, 0.05, 0.1, 0.1, 0.08, 0.05, -0.05, -0.1, -0.05, 0.15, 0.15, -0.1, 0.0, 0.5],
    [0.1, 0.0, -0.05, -0.15, -0.25, -0.4, -0.45, 0.0, 0.3, 0.15, -0.03, -0.05, 0.03, 0.08, 0.08, 0.05, 0.02, -0.07, -0.12, -0.07, 0.12, 0.12, -0.12, -0.05, 0.2],
    [0.0, -0.08, -0.12, -0.2, -0.3, -0.48, -0.52, -0.15, 0.15, 0.1, -0.05, -0.08, 0.0, 0.05, 0.05, 0.02, -0.02, -0.1, -0.15, -0.1, 0.08, 0.08, -0.15, -0.1, 0.05],
    [-0.23, -0.15, -0.15, -0.25, -0.4, -0.6, -0.85, -0.9, -0.75, -0.5, -0.32, -0.15, -0.05, 0.0, 0.02, 0.0, -0.04, -0.1, -0.12, -0.08, 0.05, 0.06, -0.1, -0.12, 0.0],
    [0.15, 0.05, 0.0, -0.1, -0.2, -0.35, -0.4, 0.1, 0.4, 0.2, 0.0, -0.03, 0.04, 0.1, 0.08, 0.05, 0.03, -0.05, -0.1, -0.05, 0.12, 0.14, -0.08, -0.05, 0.1],
    [-0.1, -0.1, -0.15, -0.22, -0.3, -0.45, -0.48, -0.2, 0.05, 0.05, -0.08, -0.1, -0.03, 0.02, 0.02, 0.0, -0.05, -0.12, -0.18, -0.12, 0.05, 0.05, -0.18, -0.15, 0.0],
    [0.05, -0.05, 0.0, -0.08, -0.12, -0.25, -0.3, 0.15, 0.45, 0.25, 0.02, 0.0, 0.05, 0.12, 0.1, 0.06, 0.02, -0.04, -0.08, -0.02, 0.15, 0.18, -0.05, 0.0, 0.1],
]
UNB30_TYPE2_T3_MEAN = [0.18, -0.02, 0.0, -0.12, -0.2, -0.33, -0.3, 0.1, 0.15, 0.05, -0.07, -0.08, 0.0,
                       0.05, 0.05, 0.03, 0.0, -0.09, -0.14, -0.1, 0.1, 0.1, -0.15, -0.1, 0.07]

CAPTIONS = [
    "(a) Balanced market with 5-day data",
    "(b) Unbalanced market with 5-day data",
    "(c) Balanced market with 30-day data",
    "(d) Unbalanced market with 30-day data",
]

# facet data per sub-figure: [type row][term column] -> (curves, mean)
FIGURES = [
    [[(BAL5_TYPE1_T1, BAL5_TYPE1_T1_MEAN), (BAL5_TYPE1_T2, BAL5_TYPE1_T2_MEAN), (BAL5_TYPE1_T3, BAL5_TYPE1_T3_MEAN)],
     [(BAL5_TYPE2_T1, BAL5_TYPE2_T1_MEAN), (BAL5_TYPE2_T2, BAL5_TYPE2_T2_MEAN), (BAL5_TYPE2_T3, BAL5_TYPE2_T3_MEAN)]],
    [[(UNB5_TYPE1_T1, UNB5_TYPE1_T1_MEAN), (UNB5_TYPE1_T2, UNB5_TYPE1_T2_MEAN), (UNB5_TYPE1_T3, UNB5_TYPE1_T3_MEAN)],
     [(UNB5_TYPE2_T1, UNB5_TYPE2_T1_MEAN), (UNB5_TYPE2_T2, UNB5_TYPE2_T2_MEAN), (UNB5_TYPE2_T3, UNB5_TYPE2_T3_MEAN)]],
    [[(BAL30_TYPE1_T1, BAL30_TYPE1_T1_MEAN), (BAL30_TYPE1_T2, BAL30_TYPE1_T2_MEAN), (BAL30_TYPE1_T3, BAL30_TYPE1_T3_MEAN)],
     [(BAL30_TYPE2_T1, BAL30_TYPE2_T1_MEAN), (BAL30_TYPE2_T2, BAL30_TYPE2_T2_MEAN), (BAL30_TYPE2_T3, BAL30_TYPE2_T3_MEAN)]],
    [[(UNB30_TYPE1_T1, UNB30_TYPE1_T1_MEAN), (UNB30_TYPE1_T2, UNB30_TYPE1_T2_MEAN), (UNB30_TYPE1_T3, UNB30_TYPE1_T3_MEAN)],
     [(UNB30_TYPE2_T1, UNB30_TYPE2_T1_MEAN), (UNB30_TYPE2_T2, UNB30_TYPE2_T2_MEAN), (UNB30_TYPE2_T3, UNB30_TYPE2_T3_MEAN)]],
]

# ---------------- page geometry (pixels) ----------------
W, H = 1153, 1104
FIG_OFFSETS = [(0, 0), (591, 20), (0, 577), (591, 577)]
CAPTION_POS = [(284, 551), (876, 531), (286, 1088), (877, 1088)]
COL_LEFT = [106.5, 247.6, 388.6]
PANEL_W = 127.0
ROW_TOP = [54.4, 230.7]
PANEL_H = 161.3
STRIP_TOP = 8.3
STRIP_RIGHT = (518.0, 562.0)

GRAY = "rgba(0,0,0,0.40)"
MAGENTA = "#C54BAB"
NAVY = "#262A72"
PANEL_BG = "#EBEBEB"
STRIP_BG = "#D9D9D9"
SANS = "Liberation Sans, Arial, sans-serif"
SERIF = "DejaVu Serif, serif"


def fx(px):
    return px / W


def fy(px):
    return 1 - px / H


def hours_for(values):
    return HOURS_2H if len(values) <= 13 else HOURS[:len(values)]


fig = go.Figure()
layout = dict(
    width=W, height=H, margin=dict(l=0, r=0, t=0, b=0),
    paper_bgcolor="white", plot_bgcolor=PANEL_BG, showlegend=False,
    font=dict(family=SANS),
)
shapes, annotations = [], []

n = 0
for f, (dx, dy) in enumerate(FIG_OFFSETS):
    for r in range(2):
        for c in range(3):
            n += 1
            xa = "x" if n == 1 else f"x{n}"
            ya = "y" if n == 1 else f"y{n}"
            left = COL_LEFT[c] + dx
            top = ROW_TOP[r] + dy
            curves, mean = FIGURES[f][r][c]
            for yv in curves:
                fig.add_trace(go.Scatter(
                    x=hours_for(yv), y=yv, mode="lines", xaxis=xa, yaxis=ya,
                    line=dict(color=GRAY, width=3.0, shape="spline", smoothing=1.0),
                    connectgaps=False, hoverinfo="skip"))
            fig.add_trace(go.Scatter(
                x=hours_for(mean), y=mean, mode="lines", xaxis=xa, yaxis=ya,
                line=dict(color=MAGENTA, width=3.2, shape="spline", smoothing=1.0),
                hoverinfo="skip"))

            layout["xaxis" if n == 1 else f"xaxis{n}"] = dict(
                domain=[fx(left), fx(left + PANEL_W)], anchor=ya,
                range=[-1.2, 25.2], tickvals=X_TICKS, ticktext=X_TICK_LABELS,
                showgrid=True, gridcolor="white", gridwidth=1.8, zeroline=False,
                minor=dict(tickvals=[6, 18], showgrid=True, gridcolor="white", gridwidth=0.9, ticks=""),
                showticklabels=(r == 1), ticks="outside" if r == 1 else "",
                ticklen=5, tickwidth=1.8, tickcolor="#333333", ticklabelstandoff=3,
                tickfont=dict(family=SANS, size=21, color="#4D4D4D"), showline=False,
            )
            layout["yaxis" if n == 1 else f"yaxis{n}"] = dict(
                domain=[fy(top + PANEL_H), fy(top)], anchor=xa,
                range=[-1.1, 1.1], tickvals=Y_TICKS, ticktext=Y_TICK_LABELS,
                showgrid=True, gridcolor="white", gridwidth=1.8, zeroline=False,
                minor=dict(tickvals=[-0.75, -0.25, 0.25, 0.75], showgrid=True,
                           gridcolor="white", gridwidth=0.9, ticks=""),
                showticklabels=(c == 0), ticks="outside" if c == 0 else "",
                ticklen=5, tickwidth=1.8, tickcolor="#333333", ticklabelstandoff=4,
                tickfont=dict(family=SANS, size=21, color="#4D4D4D"), showline=False,
            )
            # horizontal reference line at zero across the whole panel
            shapes.append(dict(type="line", xref=f"{xa} domain", yref=ya,
                               x0=0, x1=1, y0=0, y1=0, layer="above",
                               line=dict(color=NAVY, width=3)))

    # column strips (terms)
    for c, term in enumerate(TERMS):
        left = COL_LEFT[c] + dx
        shapes.append(dict(type="rect", xref="paper", yref="paper", layer="below",
                           x0=fx(left), x1=fx(left + PANEL_W),
                           y0=fy(ROW_TOP[0] + dy), y1=fy(STRIP_TOP + dy),
                           fillcolor=STRIP_BG, line=dict(width=0)))
        annotations.append(dict(text=term, xref="paper", yref="paper", showarrow=False,
                                x=fx(left + PANEL_W / 2), y=fy((STRIP_TOP + ROW_TOP[0]) / 2 + dy),
                                xanchor="center", yanchor="middle",
                                font=dict(family=SANS, size=22, color="#1A1A1A")))
    # row strips (types)
    for r, typ in enumerate(TYPES):
        top = ROW_TOP[r] + dy
        shapes.append(dict(type="rect", xref="paper", yref="paper", layer="below",
                           x0=fx(STRIP_RIGHT[0] + dx), x1=fx(STRIP_RIGHT[1] + dx),
                           y0=fy(top + PANEL_H), y1=fy(top),
                           fillcolor=STRIP_BG, line=dict(width=0)))
        annotations.append(dict(text=typ, xref="paper", yref="paper", showarrow=False,
                                x=fx((STRIP_RIGHT[0] + STRIP_RIGHT[1]) / 2 + dx),
                                y=fy(top + PANEL_H / 2), textangle=90,
                                xanchor="center", yanchor="middle",
                                font=dict(family=SANS, size=22, color="#1A1A1A")))
    # axis titles
    annotations.append(dict(text="Residual curves", xref="paper", yref="paper", showarrow=False,
                            x=fx(22 + dx), y=fy((ROW_TOP[0] + ROW_TOP[1] + PANEL_H) / 2 + dy),
                            textangle=-90, xanchor="center", yanchor="middle",
                            font=dict(family=SANS, size=28, color="black")))
    annotations.append(dict(text="Time", xref="paper", yref="paper", showarrow=False,
                            x=fx((COL_LEFT[0] + COL_LEFT[2] + PANEL_W) / 2 + dx), y=fy(446 + dy),
                            xanchor="center", yanchor="middle",
                            font=dict(family=SANS, size=28, color="black")))
    cx, cy = CAPTION_POS[f]
    annotations.append(dict(text=CAPTIONS[f], xref="paper", yref="paper", showarrow=False,
                            x=fx(cx), y=fy(cy), xanchor="center", yanchor="middle",
                            font=dict(family=SERIF, size=25, color="#2B2B2B")))

layout["shapes"] = shapes
layout["annotations"] = annotations
fig.update_layout(**layout)
fig.write_html("out.html")
